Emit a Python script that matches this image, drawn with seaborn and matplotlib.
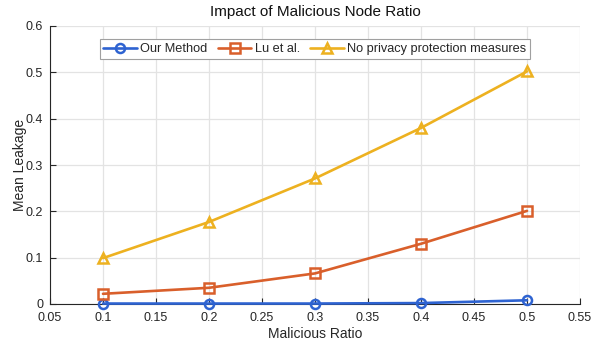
import matplotlib
matplotlib.use("Agg")
import matplotlib.pyplot as plt
import seaborn as sns
import pandas as pd
from matplotlib.ticker import FuncFormatter

ratios = [0.1, 0.2, 0.3, 0.4, 0.5]
our_method = [0.001, 0.001, 0.001, 0.002, 0.008]
lu_et_al = [0.022, 0.035, 0.066, 0.130, 0.201]
no_privacy = [0.099, 0.177, 0.271, 0.380, 0.502]
series_names = ["Our Method", "Lu et al.", "No privacy protection measures"]
xticks = [0.05, 0.1, 0.15, 0.2, 0.25, 0.3, 0.35, 0.4, 0.45, 0.5, 0.55]
yticks = [0, 0.1, 0.2, 0.3, 0.4, 0.5, 0.6]

colors = ["#2E63D1", "#D95F2B", "#EDB120"]
markers = ["o", "s", "^"]

sns.set_theme(style="white")
plt.rcParams["font.family"] = ["Liberation Sans", "DejaVu Sans"]

fig = plt.figure(figsize=(5.92, 3.43), dpi=100)
ax = fig.add_axes([50 / 592, 1 - 304 / 343, 530 / 592, 278 / 343])

for name, vals, c, m in zip(series_names, [our_method, lu_et_al, no_privacy], colors, markers):
    df = pd.DataFrame({"x": ratios, "y": vals})
    sns.lineplot(data=df, x="x", y="y", ax=ax, color=c, marker=m, markersize=6.5,
                 markerfacecolor="none", markeredgecolor=c, markeredgewidth=1.8,
                 linewidth=1.9, label=name, zorder=3, clip_on=False)

ax.set_xlim(0.05, 0.55)
ax.set_ylim(0, 0.6)
ax.set_xticks(xticks)
ax.set_yticks(yticks)
fmt = FuncFormatter(lambda v, p: ("%g" % round(v, 2)))
ax.xaxis.set_major_formatter(fmt)
ax.yaxis.set_major_formatter(fmt)
ax.grid(True, color="#E3E3E3", linewidth=0.9)
ax.set_axisbelow(True)
for s in ["top", "right"]:
    ax.spines[s].set_visible(False)
for s in ["left", "bottom"]:
    ax.spines[s].set_color("#262626")
    ax.spines[s].set_linewidth(0.8)
ax.tick_params(direction="in", length=4, width=0.8, color="#262626",
               labelsize=9, labelcolor="#262626", bottom=True, left=True)
ax.tick_params(axis="x", pad=6)
ax.tick_params(axis="y", pad=5)
ax.set_xlabel("Malicious Ratio", fontsize=10, color="#262626", labelpad=2)
ax.set_ylabel("Mean Leakage", fontsize=10, color="#262626", labelpad=-1)
ax.set_title("Impact of Malicious Node Ratio", fontsize=11, color="#111111", pad=7)

leg = ax.legend(loc="upper center", ncol=3, fontsize=9.2, frameon=True, fancybox=False,
                edgecolor="#A0A0A0", framealpha=1, borderpad=0.3, handlelength=2.6,
                columnspacing=0.8, handletextpad=0.3, bbox_to_anchor=(0.5, 0.975))
leg.get_frame().set_linewidth(0.8)

fig.savefig("out.png", dpi=100)
